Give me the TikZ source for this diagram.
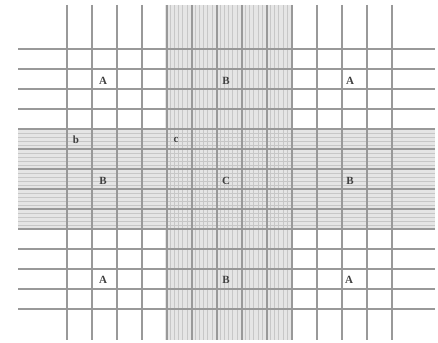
\documentclass[tikz,border=0pt]{standalone}
\usepackage{fontspec}
\setmainfont{Liberation Serif}
\begin{document}
\begin{tikzpicture}[x=1pt,y=-1pt,
  gridline/.style={draw=black!40,line width=1.6pt},
  fineline/.style={draw=black!22,line width=0.45pt},
  bandfill/.style={fill=black!10},
  lbl/.style={font=\fontsize{11}{12}\selectfont\bfseries,text=black!75,inner sep=0pt}]
\useasboundingbox[fill=white] (0,0) rectangle (438,342);
% band fills
\fill[bandfill] (18,128) rectangle (435,230);
\fill[bandfill] (165,5) rectangle (292,340);
% fine lines of horizontal band
\foreach \k in {0,...,25} \draw[fineline] (18,{129+4*\k}) -- (435,{129+4*\k});
% fine lines of vertical band
\foreach \k in {0,...,30} \draw[fineline] ({166+4.17*\k},5) -- ({166+4.17*\k},340);
% main grid
\foreach \k in {0,...,13} \draw[gridline] ({67+25*\k},5) -- ({67+25*\k},340);
\foreach \k in {0,...,13} \draw[gridline] (18,{49+20*\k}) -- (435,{49+20*\k});
% labels
\node[lbl] (a1) at (103,81) {A};
\node[lbl] (b1) at (226,81) {B};
\node[lbl] (a2) at (350,81) {A};
\node[lbl] (sb) at (76,140) {b};
\node[lbl] (sc) at (176,140) {c};
\node[lbl] (b2) at (103,181) {B};
\node[lbl] (c1) at (226,181) {C};
\node[lbl] (b3) at (350,181) {B};
\node[lbl] (a3) at (103,280) {A};
\node[lbl] (b4) at (226,280) {B};
\node[lbl] (a4) at (349,280) {A};
\end{tikzpicture}
\end{document}
